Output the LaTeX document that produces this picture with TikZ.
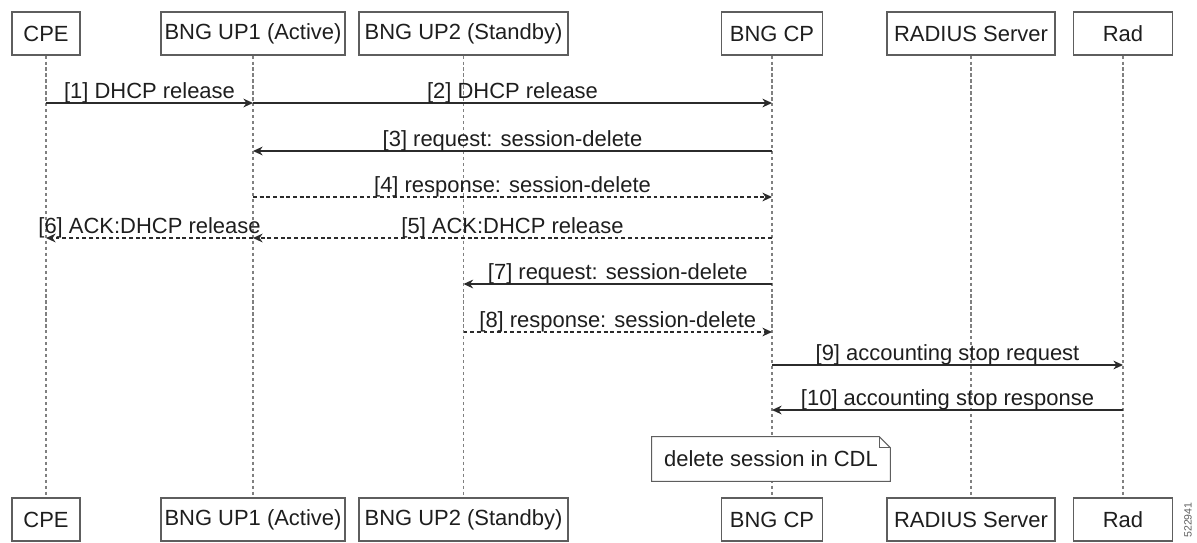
\documentclass[tikz,border=0pt]{standalone}
\usepackage{fontspec}
\setmainfont{Liberation Sans}
\usetikzlibrary{arrows.meta}
\definecolor{boxgray}{HTML}{5E5E5E}
\definecolor{lifegray}{HTML}{808080}
\definecolor{arrowdark}{HTML}{2B2B2B}
\definecolor{textdark}{HTML}{1E1E1E}

\begin{document}
\begin{tikzpicture}[x=0.02cm, y=-0.02cm,
  font=\fontsize{12.5}{15}\selectfont, text=textdark,
  actor/.style={draw=boxgray, line width=0.6pt, fill=white, minimum height=0.86cm, inner sep=0pt},
  life/.style={draw=lifegray, line width=0.6pt, dash pattern=on 1.8pt off 1.6pt},
  msg/.style={draw=arrowdark, line width=0.7pt, -{Stealth[length=5.5pt, width=5pt]}},
  reply/.style={msg, dash pattern=on 2.2pt off 1.6pt},
  lbl/.style={midway, anchor=base, yshift=2.8pt}]
\useasboundingbox (0,0) rectangle (1197,542);

% message rows
\coordinate (m1) at (0,103);
\coordinate (m3) at (0,151);
\coordinate (m4) at (0,197);
\coordinate (m5) at (0,238);
\coordinate (m7) at (0,284);
\coordinate (m8) at (0,332);
\coordinate (m9) at (0,365);
\coordinate (m10) at (0,410);

% participants, top and bottom
\node[actor, minimum width=1.36cm] (cpeT) at (46,33.5) {CPE};
\node[actor, minimum width=3.68cm] (up1T) at (253,33.5) {BNG UP1 (Active)};
\node[actor, minimum width=4.18cm] (up2T) at (463.5,33.5) {BNG UP2 (Standby)};
\node[actor, minimum width=2.02cm] (cpT) at (772,33.5) {BNG CP};
\node[actor, minimum width=3.36cm] (radsT) at (971,33.5) {RADIUS Server};
\node[actor, minimum width=1.98cm] (radT) at (1123,33.5) {Rad};

\node[actor, minimum width=1.36cm] (cpeB) at (46,519.5) {CPE};
\node[actor, minimum width=3.68cm] (up1B) at (253,519.5) {BNG UP1 (Active)};
\node[actor, minimum width=4.18cm] (up2B) at (463.5,519.5) {BNG UP2 (Standby)};
\node[actor, minimum width=2.02cm] (cpB) at (772,519.5) {BNG CP};
\node[actor, minimum width=3.36cm] (radsB) at (971,519.5) {RADIUS Server};
\node[actor, minimum width=1.98cm] (radB) at (1123,519.5) {Rad};

% lifelines
\draw[life] (cpeT) -- (cpeB);
\draw[life] (up1T) -- (up1B);
\draw[life] (up2T) -- (up2B);
\draw[life] (cpT) -- (cpB);
\draw[life] (radsT) -- (radsB);
\draw[life] (radT) -- (radB);

% messages
\draw[msg] (cpeT |- m1) -- (up1T |- m1) node[lbl] {[1] DHCP release};
\draw[msg] (up1T |- m1) -- (cpT |- m1) node[lbl] {[2] DHCP release};
\draw[msg] (cpT |- m3) -- (up1T |- m3) node[lbl] {[3] request: session-delete};
\draw[reply] (up1T |- m4) -- (cpT |- m4) node[lbl] {[4] response: session-delete};
\draw[reply] (cpT |- m5) -- (up1T |- m5) node[lbl] {[5] ACK:DHCP release};
\draw[reply] (up1T |- m5) -- (cpeT |- m5) node[lbl] {[6] ACK:DHCP release};
\draw[msg] (cpT |- m7) -- (up2T |- m7) node[lbl] {[7] request: session-delete};
\draw[reply] (up2T |- m8) -- (cpT |- m8) node[lbl] {[8] response: session-delete};
\draw[msg] (cpT |- m9) -- (radT |- m9) node[lbl] {[9] accounting stop request};
\draw[msg] (radT |- m10) -- (cpT |- m10) node[lbl] {[10] accounting stop response};

% note on BNG CP
\node[fill=white, minimum width=4.76cm, minimum height=0.88cm, inner sep=0pt] (note) at (771,459) {delete session in CDL};
\draw[boxgray, line width=0.6pt] (note.south west) -- (note.north west) -- ([xshift=-0.22cm]note.north east)
  -- ([yshift=-0.22cm]note.north east) -- (note.south east) -- cycle;
\draw[boxgray, line width=0.6pt] ([xshift=-0.22cm]note.north east) |- ([yshift=-0.22cm]note.north east);

\node[rotate=90, font=\fontsize{6}{7}\selectfont, text=boxgray] (figid) at (1188,520) {522941};
\end{tikzpicture}
\end{document}
